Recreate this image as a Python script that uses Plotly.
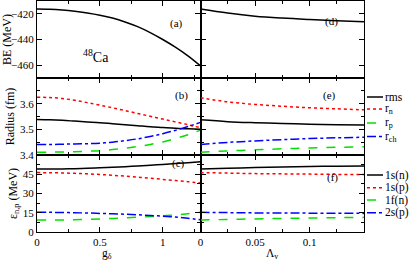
import plotly.graph_objects as go
from plotly.subplots import make_subplots

# ---- data ----
g_delta = [0, 0.1, 0.2, 0.3, 0.4, 0.5, 0.6, 0.7, 0.8, 0.9, 1.0, 1.1, 1.2, 1.3]
lam_v = [0, 0.025, 0.05, 0.075, 0.1, 0.125, 0.15]

be_g = [-416.2, -416.4, -417.0, -418.0, -419.4, -421.1, -423.3, -426.3, -430.0,
        -434.6, -440.0, -446.0, -452.8, -460.6]
be_l = [-416.3, -419.4, -421.8, -423.3, -424.4, -425.3, -426.1]

rms_g = [3.538, 3.537, 3.535, 3.532, 3.529, 3.526, 3.522, 3.518, 3.514, 3.510, 3.507, 3.504, 3.502, 3.500]
rn_g = [3.625, 3.624, 3.620, 3.613, 3.604, 3.594, 3.584, 3.573, 3.562, 3.551, 3.540, 3.529, 3.518, 3.506]
rp_g = [3.411, 3.411, 3.412, 3.413, 3.415, 3.417, 3.421, 3.426, 3.433, 3.441, 3.451, 3.464, 3.479, 3.497]
rch_g = [3.441, 3.441, 3.442, 3.443, 3.444, 3.446, 3.450, 3.456, 3.463, 3.472, 3.483, 3.496, 3.511, 3.527]

rms_l = [3.537, 3.530, 3.526, 3.523, 3.520, 3.518, 3.517]
rn_l = [3.623, 3.607, 3.597, 3.590, 3.584, 3.580, 3.576]
rp_l = [3.411, 3.416, 3.420, 3.424, 3.427, 3.430, 3.432]
rch_l = [3.441, 3.449, 3.455, 3.460, 3.464, 3.467, 3.469]

s1n_g = [49.0, 49.0, 49.1, 49.3, 49.6, 50.0, 50.4, 50.9, 51.4, 52.0, 52.6, 53.3, 54.0, 54.8]
s1p_g = [46.3, 46.2, 46.0, 45.7, 45.3, 44.8, 44.2, 43.5, 42.7, 41.9, 41.0, 40.1, 39.2, 38.2]
f1n_g = [9.3, 9.3, 9.4, 9.6, 9.9, 10.2, 10.6, 11.0, 11.5, 12.0, 12.6, 13.3, 14.2, 15.3]
s2p_g = [15.3, 15.3, 15.2, 15.0, 14.8, 14.5, 14.2, 13.8, 13.4, 12.9, 12.3, 11.6, 10.7, 9.5]

s1n_l = [49.1, 49.7, 50.2, 50.6, 51.0, 51.3, 51.5]
s1p_l = [46.3, 45.9, 45.5, 45.3, 45.1, 44.9, 44.8]
f1n_l = [9.3, 9.8, 10.2, 10.6, 10.9, 11.2, 11.4]
s2p_l = [15.3, 15.1, 14.9, 14.8, 14.7, 14.6, 14.5]

radius_names = ["rms", "r<sub>n</sub>", "r<sub>p</sub>", "r<sub>ch</sub>"]
level_names = ["1s(n)", "1s(p)", "1f(n)", "2s(p)"]
panel_labels = ["(a)", "(b)", "(c)", "(d)", "(e)", "(f)"]
x_titles = ["g<sub>δ</sub>", "Λ<sub>v</sub>"]

colors = ["black", "red", "#00e000", "blue"]
dashes = ["solid", "dot", "dash", "dashdot"]

FONT = "Liberation Serif"
W, H = 415, 260
L, R, T, B = 37, 51, 1, 28
PW, PH = W - L - R, H - T - B


def px(xp):
    return (xp - L) / PW


def py(yp):
    return (H - B - yp) / PH


def fnt(size):
    return dict(family=FONT, size=size, color="black")


fig = make_subplots(rows=3, cols=2, horizontal_spacing=0, vertical_spacing=0)

# row 1
fig.add_trace(go.Scatter(x=g_delta, y=be_g, mode="lines", line=dict(color="black", width=1.5, shape="spline")), 1, 1)
fig.add_trace(go.Scatter(x=lam_v, y=be_l, mode="lines", line=dict(color="black", width=1.5, shape="spline")), 1, 2)

# row 2
for ys_g, ys_l, c, d in zip([rms_g, rn_g, rp_g, rch_g], [rms_l, rn_l, rp_l, rch_l], colors, dashes):
    fig.add_trace(go.Scatter(x=g_delta, y=ys_g, mode="lines", line=dict(color=c, width=1.5, dash=d, shape="spline")), 2, 1)
    fig.add_trace(go.Scatter(x=lam_v, y=ys_l, mode="lines", line=dict(color=c, width=1.5, dash=d, shape="spline")), 2, 2)

# row 3
for ys_g, ys_l, c, d in zip([s1n_g, s1p_g, f1n_g, s2p_g], [s1n_l, s1p_l, f1n_l, s2p_l], colors, dashes):
    fig.add_trace(go.Scatter(x=g_delta, y=ys_g, mode="lines", line=dict(color=c, width=1.5, dash=d, shape="spline")), 3, 1)
    fig.add_trace(go.Scatter(x=lam_v, y=ys_l, mode="lines", line=dict(color=c, width=1.5, dash=d, shape="spline")), 3, 2)

axis_common = dict(showline=True, linecolor="black", linewidth=1.3, mirror="allticks", ticks="inside",
                   ticklen=5, tickwidth=1.2, tickcolor="black", showgrid=False, zeroline=False,
                   tickfont=fnt(11))
minor = dict(ticks="inside", ticklen=3, tickwidth=1, tickcolor="black", showgrid=False)

yranges = [[-470, -410], [3.4, 3.7], [0, 60]]
yticks = [[-460, -440, -420], [3.4, 3.5, 3.6], [0, 15, 30, 45]]
ydticks = [20, 0.1, 15]
ytitles = ["BE (MeV)", "Radius (fm)", "ε<sub>n,p</sub> (MeV)"]

for r in range(1, 4):
    for c in range(1, 3):
        fig.update_xaxes(axis_common, row=r, col=c)
        fig.update_yaxes(axis_common, row=r, col=c)
        if c == 1:
            fig.update_xaxes(range=[0, 1.3], tickvals=[0, 0.5, 1], ticktext=["0", "0.5", "1"],
                             minor=dict(minor, tickvals=[0.25, 0.75, 1.25]), row=r, col=c)
        else:
            fig.update_xaxes(range=[0, 0.15], tickvals=[0, 0.05, 0.1], ticktext=["0", "0.05", "0.1"],
                             minor=dict(minor, tickvals=[0.025, 0.075, 0.125]), row=r, col=c)
        if r < 3:
            fig.update_xaxes(showticklabels=False, row=r, col=c)
        lo, hi = yranges[r - 1]
        step = ydticks[r - 1] / 2
        mv = []
        v = lo + step
        while v < hi - 1e-9:
            mv.append(round(v, 4))
            v += 2 * step
        fig.update_yaxes(range=yranges[r - 1], tickvals=yticks[r - 1],
                         minor=dict(minor, tickvals=mv), row=r, col=c)
        if c == 2:
            fig.update_yaxes(showticklabels=False, row=r, col=c)
        else:
            fig.update_yaxes(title=dict(text=ytitles[r - 1], font=fnt(12), standoff=2), row=r, col=c)

annotations = []
# x titles
for t, xx in zip(x_titles, [100, 281]):
    annotations.append(dict(x=px(xx), y=py(254), xref="paper", yref="paper", text=t, yanchor="middle",
                            showarrow=False, font=fnt(11.5)))
# panel labels
lab_pos = [(176, 15), (181, 96), (178, 172), (340, 13), (338, 96), (340, 186)]
for t, (xx, yy) in zip(panel_labels, lab_pos):
    annotations.append(dict(x=px(xx), y=py(yy), xref="paper", yref="paper", text=t, showarrow=False,
                            font=fnt(11)))
annotations.append(dict(x=px(81), y=py(45), xref="paper", yref="paper", text="<sup>48</sup>Ca",
                        showarrow=False, font=fnt(14)))

shapes = []
leg1_y = [97, 109, 123, 136.5]
leg2_y = [175, 187.7, 200, 212.7]
for names, ys in [(radius_names, leg1_y), (level_names, leg2_y)]:
    for n, yy, c, d in zip(names, ys, colors, dashes):
        shapes.append(dict(type="line", xref="paper", yref="paper", x0=px(367), x1=px(383), y0=py(yy), y1=py(yy),
                           line=dict(color=c, width=1.5, dash=d)))
        annotations.append(dict(x=px(383), y=py(yy), xref="paper", yref="paper", text=n, showarrow=False,
                                xanchor="left", yanchor="middle", font=fnt(11.5)))

fig.update_layout(width=W, height=H, margin=dict(l=L, r=R, t=T, b=B), showlegend=False,
                  plot_bgcolor="white", paper_bgcolor="white", annotations=annotations, shapes=shapes,
                  font=fnt(11))

fig.write_html("out.html", config={"displayModeBar": False},
               post_script="document.body.style.margin='0px';")
